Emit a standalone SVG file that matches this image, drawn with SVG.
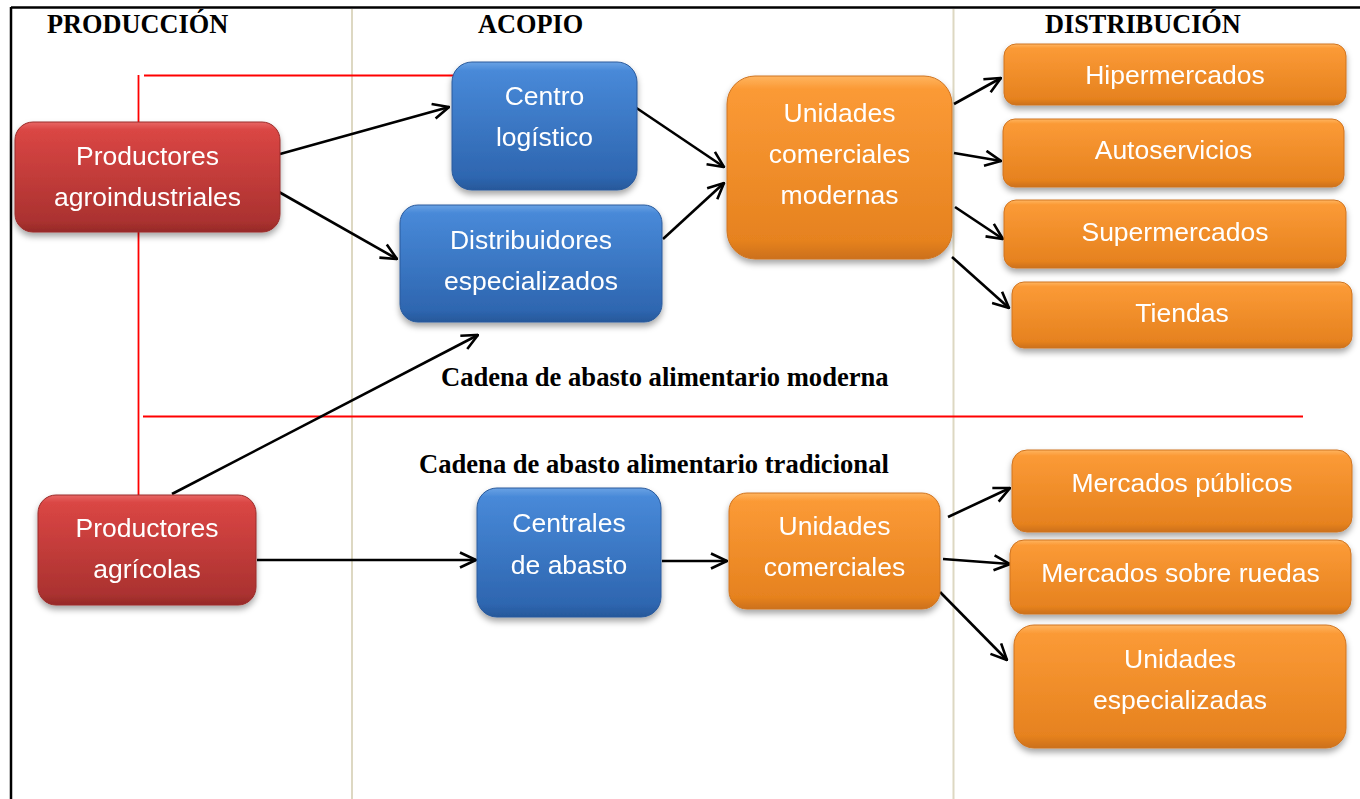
<svg xmlns="http://www.w3.org/2000/svg" width="1360" height="799" viewBox="0 0 1360 799">
<style>
.title{font-family:"Liberation Serif","Times New Roman",serif;font-weight:bold;font-size:26.3px;fill:#000}
.sub{font-size:26.6px}
.lbl{font-family:"Liberation Sans",Arial,sans-serif;font-size:26.5px;fill:#fff;text-anchor:middle}
.red{fill:url(#gRed);stroke:#9a2c2a;stroke-width:1}
.blue{fill:url(#gBlue);stroke:#2a5a9c;stroke-width:1}
.orange{fill:url(#gOrange);stroke:#cf7420;stroke-width:1}
.conn line{stroke:#000;stroke-width:2.6;marker-end:url(#arr)}
.rl{stroke:#ff0000;stroke-width:1.8;fill:none}
.bl{stroke:#ddd8c2;stroke-width:2;fill:none}
</style>
<defs>
<linearGradient id="gRed" x1="0" y1="0" x2="0" y2="1">
<stop offset="0" stop-color="#e86664"/>
<stop offset="0.07" stop-color="#da4644"/>
<stop offset="0.9" stop-color="#ab3230"/>
<stop offset="1" stop-color="#962a28"/>
</linearGradient>
<linearGradient id="gBlue" x1="0" y1="0" x2="0" y2="1">
<stop offset="0" stop-color="#6aa2e4"/>
<stop offset="0.07" stop-color="#4889d8"/>
<stop offset="0.9" stop-color="#2e66b0"/>
<stop offset="1" stop-color="#27589a"/>
</linearGradient>
<linearGradient id="gOrange" x1="0" y1="0" x2="0" y2="1">
<stop offset="0" stop-color="#ffb560"/>
<stop offset="0.07" stop-color="#fb9a36"/>
<stop offset="0.9" stop-color="#e6821f"/>
<stop offset="1" stop-color="#cc701a"/>
</linearGradient>
<filter id="sh" x="-10%" y="-10%" width="120%" height="130%">
<feDropShadow dx="0" dy="4" stdDeviation="3" flood-color="#000" flood-opacity="0.35"/>
</filter>
<marker id="arr" viewBox="0 0 18 18" refX="17" refY="9" markerWidth="18" markerHeight="18" markerUnits="userSpaceOnUse" orient="auto">
<path d="M1,1.5 L17,9 L1,16.5" fill="none" stroke="#000" stroke-width="2.6"/>
</marker>
</defs>
<rect width="1360" height="799" fill="#fff"/>
<g id="frame">
<line x1="11" y1="7.5" x2="1360" y2="7.5" stroke="#000" stroke-width="2.5"/>
<line x1="11" y1="7" x2="11" y2="799" stroke="#000" stroke-width="2.5"/>
<line class="bl" x1="352" y1="9" x2="352" y2="799"/>
<line class="bl" x1="953.5" y1="9" x2="953.5" y2="799"/>
</g>
<g id="red-lines">
<line class="rl" x1="138.5" y1="75" x2="138.5" y2="495"/>
<line class="rl" x1="144" y1="75.5" x2="455" y2="75.5"/>
<line class="rl" x1="143" y1="416.5" x2="1303" y2="416.5"/>
</g>
<g id="titles">
<text class="title" x="47" y="33">PRODUCCIÓN</text>
<text class="title" x="478" y="33">ACOPIO</text>
<text class="title" x="1045" y="33">DISTRIBUCIÓN</text>
<text class="title sub" x="441" y="386">Cadena de abasto alimentario moderna</text>
<text class="title sub" x="419" y="473">Cadena de abasto alimentario tradicional</text>
</g>
<g id="connectors" class="conn">
<line x1="280" y1="154" x2="449" y2="107"/>
<line x1="279" y1="192" x2="397" y2="259"/>
<line x1="635" y1="107" x2="724" y2="167"/>
<line x1="663" y1="239" x2="724" y2="183"/>
<line x1="954" y1="104" x2="1001" y2="78"/>
<line x1="954" y1="153" x2="1001" y2="161"/>
<line x1="955" y1="207" x2="1003" y2="239"/>
<line x1="952" y1="257" x2="1009" y2="308"/>
<line x1="172" y1="494" x2="478" y2="335"/>
<line x1="257" y1="560" x2="476" y2="560"/>
<line x1="662" y1="561" x2="727" y2="561"/>
<line x1="948" y1="517" x2="1010" y2="488"/>
<line x1="943" y1="559" x2="1010" y2="564"/>
<line x1="940" y1="592" x2="1007" y2="660"/>
</g>
<g id="n-agro" filter="url(#sh)"><rect class="red" x="15" y="122" width="265" height="110" rx="18"/><text class="lbl" x="147.5" y="165">Productores</text><text class="lbl" x="147.5" y="206">agroindustriales</text></g>
<g id="n-agri" filter="url(#sh)"><rect class="red" x="38" y="495" width="218" height="110" rx="18"/><text class="lbl" x="147" y="537">Productores</text><text class="lbl" x="147" y="578">agrícolas</text></g>
<g id="n-centro" filter="url(#sh)"><rect class="blue" x="452" y="62" width="185" height="128" rx="20"/><text class="lbl" x="544.5" y="105">Centro</text><text class="lbl" x="544.5" y="146">logístico</text></g>
<g id="n-distrib" filter="url(#sh)"><rect class="blue" x="400" y="205" width="262" height="117" rx="18"/><text class="lbl" x="531" y="249">Distribuidores</text><text class="lbl" x="531" y="290">especializados</text></g>
<g id="n-ucm" filter="url(#sh)"><rect class="orange" x="727" y="76" width="225" height="183" rx="28"/><text class="lbl" x="839.5" y="122">Unidades</text><text class="lbl" x="839.5" y="163">comerciales</text><text class="lbl" x="839.5" y="204">modernas</text></g>
<g id="n-hiper" filter="url(#sh)"><rect class="orange" x="1004" y="44" width="342" height="61" rx="12"/><text class="lbl" x="1175" y="84">Hipermercados</text></g>
<g id="n-auto" filter="url(#sh)"><rect class="orange" x="1003" y="119" width="341" height="68" rx="12"/><text class="lbl" x="1173.5" y="159">Autoservicios</text></g>
<g id="n-super" filter="url(#sh)"><rect class="orange" x="1004" y="200" width="342" height="68" rx="12"/><text class="lbl" x="1175" y="241">Supermercados</text></g>
<g id="n-tiendas" filter="url(#sh)"><rect class="orange" x="1012" y="282" width="340" height="66" rx="12"/><text class="lbl" x="1182" y="322">Tiendas</text></g>
<g id="n-centrales" filter="url(#sh)"><rect class="blue" x="477" y="488" width="184" height="129" rx="20"/><text class="lbl" x="569" y="532">Centrales</text><text class="lbl" x="569" y="574">de abasto</text></g>
<g id="n-uc" filter="url(#sh)"><rect class="orange" x="729" y="493" width="211" height="116" rx="18"/><text class="lbl" x="834.5" y="535">Unidades</text><text class="lbl" x="834.5" y="576">comerciales</text></g>
<g id="n-mpub" filter="url(#sh)"><rect class="orange" x="1012" y="450" width="340" height="82" rx="15"/><text class="lbl" x="1182" y="492">Mercados públicos</text></g>
<g id="n-mrue" filter="url(#sh)"><rect class="orange" x="1010" y="540" width="341" height="74" rx="14"/><text class="lbl" x="1180.5" y="582">Mercados sobre ruedas</text></g>
<g id="n-uesp" filter="url(#sh)"><rect class="orange" x="1014" y="625" width="332" height="123" rx="20"/><text class="lbl" x="1180" y="668">Unidades</text><text class="lbl" x="1180" y="709">especializadas</text></g>
</svg>
